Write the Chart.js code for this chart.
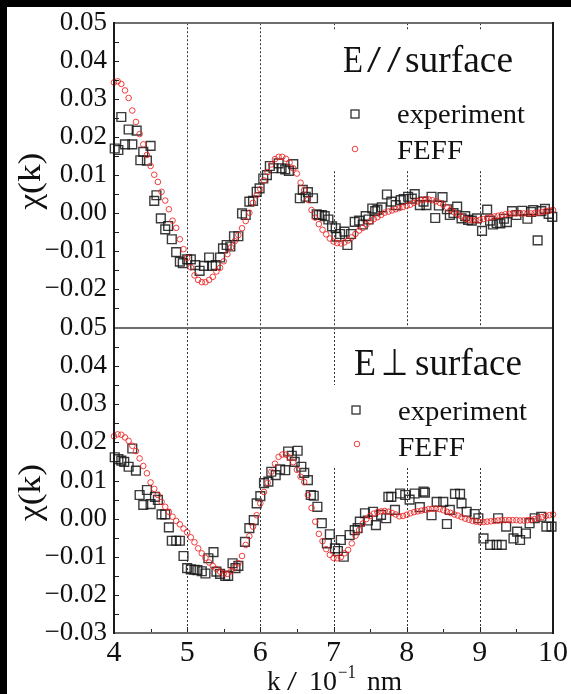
<!DOCTYPE html>
<html>
<head>
<meta charset="utf-8">
<script src="https://cdn.jsdelivr.net/npm/chart.js@4.4.0/dist/chart.umd.min.js"></script>
<style>
html, body { margin: 0; padding: 0; background: #000; }
#wrap { position: relative; width: 571px; height: 694px; overflow: hidden; }
#paper { position: absolute; left: 7px; top: 7px; width: 564px; height: 687px; background: #fff; }
canvas { position: absolute; left: 0; top: 0; }
</style>
</head>
<body>
<div id="wrap">
  <div id="paper"></div>
  <canvas id="topPanel" width="571" height="694"></canvas>
  <canvas id="bottomPanel" width="571" height="694"></canvas>
</div>
<script>
// k values of the FEFF curves (10^-1 nm)
var kFeff = [
  4.00,4.05,4.10,4.15,4.20,4.25,4.30,4.35,4.40,4.45,4.50,4.55,4.60,4.65,4.70,4.75,4.80,4.85,4.90,4.95,
  5.00,5.05,5.10,5.15,5.20,5.25,5.30,5.35,5.40,5.45,5.50,5.55,5.60,5.65,5.70,5.75,5.80,5.85,5.90,5.95,
  6.00,6.05,6.10,6.15,6.20,6.25,6.30,6.35,6.40,6.45,6.50,6.55,6.60,6.65,6.70,6.75,6.80,6.85,6.90,6.95,
  7.00,7.05,7.10,7.15,7.20,7.25,7.30,7.35,7.40,7.45,7.50,7.55,7.60,7.65,7.70,7.75,7.80,7.85,7.90,7.95,
  8.00,8.05,8.10,8.15,8.20,8.25,8.30,8.35,8.40,8.45,8.50,8.55,8.60,8.65,8.70,8.75,8.80,8.85,8.90,8.95,
  9.00,9.05,9.10,9.15,9.20,9.25,9.30,9.35,9.40,9.45,9.50,9.55,9.60,9.65,9.70,9.75,9.80,9.85,9.90,9.95,
  10.00
];

// FEFF, E // surface
var feffTop = [
  0.0344,0.0347,0.0340,0.0323,0.0303,0.0270,0.0240,0.0208,0.0181,0.0153,0.0124,0.0101,0.0082,0.0056,0.0033,0.0010,-0.0020,-0.0039,-0.0069,-0.0095,
  -0.0118,-0.0143,-0.0164,-0.0176,-0.0182,-0.0182,-0.0176,-0.0168,-0.0154,-0.0144,-0.0127,-0.0108,-0.0090,-0.0074,-0.0058,-0.0040,-0.0021,0.0001,0.0027,0.0047,
  0.0063,0.0086,0.0108,0.0128,0.0142,0.0148,0.0148,0.0143,0.0133,0.0118,0.0104,0.0080,0.0061,0.0035,0.0008,-0.0012,-0.0029,-0.0044,-0.0056,-0.0067,
  -0.0075,-0.0079,-0.0080,-0.0077,-0.0072,-0.0064,-0.0055,-0.0046,-0.0039,-0.0030,-0.0022,-0.0016,-0.0011,-0.0005,0.0001,0.0004,0.0007,0.0010,0.0013,0.0016,
  0.0019,0.0022,0.0027,0.0031,0.0034,0.0036,0.0036,0.0034,0.0031,0.0027,0.0022,0.0015,0.0008,0.0002,-0.0004,-0.0009,-0.0015,-0.0018,-0.0019,-0.0019,
  -0.0018,-0.0016,-0.0013,-0.0011,-0.0009,-0.0007,-0.0005,-0.0003,-0.0002,-0.0001,-0.0001,-0.0001,-0.0001,-0.0001,-0.0001,0.0000,0.0001,0.0003,0.0005,0.0007,
  0.0008
];

// FEFF, E perpendicular to surface
var feffBottom = [
  0.0216,0.0221,0.0220,0.0213,0.0204,0.0191,0.0177,0.0158,0.0138,0.0119,0.0095,0.0078,0.0062,0.0044,0.0031,0.0018,0.0005,-0.0006,-0.0015,-0.0026,
  -0.0036,-0.0049,-0.0062,-0.0078,-0.0091,-0.0103,-0.0115,-0.0124,-0.0132,-0.0139,-0.0144,-0.0145,-0.0138,-0.0128,-0.0117,-0.0098,-0.0069,-0.0046,-0.0021,0.0009,
  0.0040,0.0070,0.0094,0.0123,0.0144,0.0162,0.0168,0.0168,0.0160,0.0148,0.0128,0.0110,0.0096,0.0062,0.0028,-0.0008,-0.0040,-0.0059,-0.0080,-0.0095,
  -0.0103,-0.0104,-0.0101,-0.0091,-0.0082,-0.0065,-0.0045,-0.0030,-0.0013,-0.0001,0.0007,0.0013,0.0017,0.0019,0.0020,0.0018,0.0015,0.0011,0.0006,0.0007,
  0.0010,0.0014,0.0017,0.0019,0.0021,0.0023,0.0025,0.0026,0.0026,0.0025,0.0022,0.0018,0.0015,0.0011,0.0008,0.0004,0.0000,-0.0003,-0.0006,-0.0008,
  -0.0009,-0.0009,-0.0008,-0.0007,-0.0006,-0.0005,-0.0004,-0.0004,-0.0004,-0.0004,-0.0004,-0.0005,-0.0005,-0.0004,-0.0003,-0.0001,0.0001,0.0004,0.0007,0.0009,
  0.0011
];

// experiment, E // surface
var kExpTop = [
  4.01,4.06,4.10,4.15,4.20,4.25,4.31,4.36,4.40,4.45,4.50,4.55,4.58,4.64,4.70,4.74,4.79,4.85,4.90,4.94,
  5.00,5.05,5.11,5.17,5.23,5.30,5.34,5.39,5.45,5.49,5.54,5.59,5.64,5.70,5.75,5.80,5.85,5.90,5.95,5.99,
  6.04,6.09,6.13,6.18,6.25,6.29,6.34,6.39,6.45,6.54,6.58,6.62,6.65,6.72,6.77,6.80,6.84,6.88,6.93,6.98,
  7.03,7.04,7.09,7.15,7.19,7.24,7.29,7.35,7.40,7.44,7.48,7.53,7.57,7.60,7.66,7.73,7.79,7.85,7.92,7.96,
  8.02,8.07,8.11,8.18,8.23,8.27,8.34,8.39,8.44,8.49,8.55,8.59,8.64,8.69,8.75,8.80,8.84,8.89,8.96,9.03,
  9.10,9.14,9.18,9.23,9.28,9.33,9.37,9.44,9.50,9.58,9.65,9.70,9.73,9.79,9.84,9.89,9.94,9.99
];
var expTop = [
  0.0170,0.0166,0.0253,0.0181,0.0220,0.0181,0.0217,0.0139,0.0161,0.0138,0.0177,0.0032,0.0047,-0.0014,-0.0043,-0.0034,-0.0069,-0.0103,-0.0128,-0.0132,
  -0.0122,-0.0122,-0.0137,-0.0152,-0.0139,-0.0117,-0.0139,-0.0137,-0.0117,-0.0093,-0.0084,-0.0088,-0.0061,-0.0061,-0.0001,-0.0005,0.0030,0.0032,0.0056,0.0065,
  0.0091,0.0100,0.0124,0.0118,0.0131,0.0118,0.0115,0.0111,0.0129,0.0039,0.0061,0.0043,0.0055,0.0039,-0.0003,-0.0005,-0.0005,-0.0008,-0.0017,-0.0035,
  -0.0040,-0.0062,-0.0055,-0.0049,-0.0084,-0.0055,-0.0023,-0.0020,-0.0030,-0.0008,-0.0017,0.0012,0.0005,0.0009,0.0015,0.0049,0.0030,0.0021,0.0034,0.0037,
  0.0043,0.0038,0.0050,0.0021,0.0030,0.0021,0.0043,-0.0013,0.0020,0.0042,0.0010,-0.0005,0.0000,0.0017,-0.0014,-0.0008,-0.0018,-0.0020,-0.0014,-0.0047,
  0.0009,-0.0020,-0.0030,-0.0026,-0.0027,-0.0015,-0.0024,0.0005,-0.0005,0.0006,-0.0015,0.0003,0.0008,-0.0072,0.0005,0.0011,-0.0002,-0.0010
];

// experiment, E perpendicular to surface
var kExpBottom = [
  4.01,4.06,4.10,4.14,4.20,4.25,4.30,4.35,4.40,4.45,4.50,4.56,4.60,4.65,4.70,4.75,4.79,4.85,4.90,4.95,
  5.00,5.05,5.10,5.14,5.20,5.25,5.29,5.36,5.40,5.45,5.52,5.56,5.62,5.66,5.70,5.79,5.85,5.91,5.95,6.00,
  6.05,6.11,6.15,6.21,6.27,6.34,6.38,6.43,6.47,6.51,6.56,6.60,6.65,6.69,6.73,6.78,6.84,6.91,6.95,7.02,
  7.06,7.10,7.14,7.22,7.29,7.33,7.36,7.43,7.47,7.54,7.58,7.65,7.72,7.75,7.79,7.84,7.91,7.98,8.04,8.11,
  8.18,8.23,8.25,8.34,8.41,8.50,8.55,8.59,8.66,8.73,8.75,8.82,8.93,8.98,9.05,9.14,9.23,9.25,9.30,9.36,
  9.46,9.51,9.55,9.63,9.68,9.75,9.84,9.91,9.98
];
var expBottom = [
  0.0161,0.0156,0.0152,0.0149,0.0136,0.0184,0.0126,0.0062,0.0036,0.0075,0.0038,0.0057,0.0049,0.0011,0.0011,-0.0023,-0.0058,-0.0058,-0.0058,-0.0098,
  -0.0130,-0.0133,-0.0134,-0.0135,-0.0138,-0.0144,-0.0104,-0.0088,-0.0139,-0.0145,-0.0150,-0.0150,-0.0117,-0.0130,-0.0124,-0.0061,-0.0025,-0.0004,0.0040,0.0059,
  0.0093,0.0097,0.0123,0.0114,0.0129,0.0127,0.0176,0.0165,0.0149,0.0178,0.0136,0.0120,0.0101,0.0062,0.0060,0.0031,-0.0012,-0.0065,-0.0041,-0.0078,
  -0.0085,-0.0056,-0.0100,-0.0043,-0.0030,-0.0025,-0.0008,0.0014,-0.0005,0.0018,-0.0017,0.0010,0.0001,0.0057,0.0057,0.0023,0.0066,0.0062,0.0050,0.0066,
  0.0030,0.0071,0.0068,0.0009,0.0044,0.0044,-0.0014,0.0023,0.0065,0.0065,0.0040,0.0018,0.0012,0.0001,-0.0052,-0.0069,-0.0069,0.0001,-0.0069,-0.0021,
  -0.0052,-0.0034,-0.0056,-0.0039,-0.0012,0.0001,0.0005,-0.0021,-0.0021
];

var gridK = [5, 6, 7, 8, 9];
var yMin = -0.03, yMax = 0.05;
var SERIF = '"Liberation Serif", "Times New Roman", serif';

function pts(ks, vs) {
    return ks.map(function(k, i) { return {x: k, y: vs[i]}; });
}

function fmtY(v, hideLowest) {
    if (hideLowest && v < -0.025) return '';
    if (Math.abs(v) < 1e-9) return '0.00';
    return v.toFixed(2).replace('-', '\u2212');
}

// draws text, squeezed or stretched to a given width when one is given
function fitText(ctx, txt, x, y, size, width) {
    ctx.font = size + 'px ' + SERIF;
    var w = ctx.measureText(txt).width;
    ctx.save();
    ctx.translate(x, y);
    if (width) ctx.scale(width / w, 1);
    ctx.fillText(txt, 0, 0);
    ctx.restore();
}

function framePlugin(cfg) {
    return {
        id: 'frame',
        beforeDatasetsDraw: function(chart) {
            var ctx = chart.ctx, a = chart.chartArea, x = chart.scales.x;
            ctx.save();
            // dotted vertical lines
            ctx.strokeStyle = '#333';
            ctx.lineWidth = 1;
            ctx.setLineDash([2, 2]);
            gridK.forEach(function(k) {
                var px = Math.round(x.getPixelForValue(k)) + 0.5;
                ctx.beginPath();
                ctx.moveTo(px, a.top);
                ctx.lineTo(px, a.bottom);
                ctx.stroke();
            });
            ctx.setLineDash([]);
            // legend area hides the dotted lines
            ctx.fillStyle = '#fff';
            cfg.boxes.forEach(function(b) { ctx.fillRect(b[0], b[1], b[2] - b[0], b[3] - b[1]); });
            ctx.restore();
        },
        afterDraw: function(chart) {
            var ctx = chart.ctx, a = chart.chartArea, x = chart.scales.x, y = chart.scales.y;
            ctx.save();
            // inward ticks
            ctx.fillStyle = '#222';
            for (var i = 0; i <= 16; i++) {
                var py = Math.round(y.getPixelForValue(yMin + i * 0.005));
                ctx.fillRect(a.left, py, 5, 1);
            }
            if (cfg.showX) {
                for (var j = 0; j <= 12; j++) {
                    var px2 = Math.round(x.getPixelForValue(4 + j * 0.5));
                    var len = j % 2 ? 4 : 6;
                    ctx.fillRect(px2, a.bottom - len, 1, len);
                }
            }
            // box (the line between the panels is drawn once, by the lower panel)
            var L0 = Math.round(a.left), R0 = Math.round(a.right), T0 = Math.round(a.top), B0 = Math.round(a.bottom);
            ctx.fillStyle = '#6e6e6e';
            ctx.fillRect(L0, T0 - 1, R0 - L0, 2);
            if (cfg.showX) ctx.fillRect(L0, B0 - 1, R0 - L0, 2);
            ctx.fillStyle = '#1a1a1a';
            ctx.fillRect(L0 - 1, T0 - 1, 2, B0 - T0 + 2);
            ctx.fillRect(R0 - 1, T0 - 1, 2, B0 - T0 + 2);

            // legend
            ctx.fillStyle = '#111';
            ctx.textAlign = 'left';
            ctx.textBaseline = 'alphabetic';
            var L = cfg.legend;
            L.title.forEach(function(p) { fitText(ctx, p.t, p.x, L.titleBase, L.titleSize, p.w); });
            fitText(ctx, 'experiment', L.textX, L.expBase, 28, L.expW);
            fitText(ctx, 'FEFF', L.textX, L.feffBase, 28, L.feffW);
            ctx.strokeStyle = 'rgba(25,25,25,0.9)';
            ctx.lineWidth = 1.3;
            ctx.strokeRect(L.sq[0] - 4, L.sq[1] - 4, 8, 8);
            ctx.strokeStyle = 'rgba(238,30,30,0.85)';
            ctx.lineWidth = 1;
            ctx.beginPath();
            ctx.arc(L.ci[0], L.ci[1], 2.8, 0, Math.PI * 2);
            ctx.stroke();

            // y title
            ctx.save();
            ctx.translate(32, (a.top + a.bottom) / 2 + cfg.titleShift);
            ctx.rotate(-Math.PI / 2);
            ctx.textBaseline = 'middle';
            ctx.font = '31px ' + SERIF;
            var tw = ctx.measureText('\u03c7(k)').width;
            ctx.scale(57 / tw, 1);
            ctx.fillText('\u03c7(k)', -tw / 2, 0);
            ctx.restore();

            // x title
            if (cfg.showX) {
                fitText(ctx, 'k', 267, 690, 27, null);
                fitText(ctx, '/', 287, 690, 27, 10);
                fitText(ctx, '10', 309, 690, 27, 28);
                fitText(ctx, '\u22121', 338, 678, 18, 18);
                fitText(ctx, 'nm', 367, 690, 27, 35);
            }
            ctx.restore();
        }
    };
}

function panel(id, expK, expV, feffV, cfg) {
    return new Chart(document.getElementById(id), {
        type: 'scatter',
        data: {
            datasets: [
                { label: 'FEFF', data: pts(kFeff, feffV), pointStyle: 'circle', pointRadius: 2.8,
                  borderColor: 'rgba(238,30,30,0.85)', backgroundColor: 'rgba(0,0,0,0)', borderWidth: 1, clip: false },
                { label: 'experiment', data: pts(expK, expV), pointStyle: 'rect', pointRadius: 6.2,
                  borderColor: 'rgba(25,25,25,0.85)', backgroundColor: 'rgba(0,0,0,0)', borderWidth: 1.4, clip: false }
            ]
        },
        options: {
            responsive: false,
            animation: false,
            events: [],
            layout: { padding: { left: 0, right: 18, top: cfg.padTop, bottom: cfg.padBottom } },
            plugins: { legend: { display: false }, tooltip: { enabled: false } },
            scales: {
                x: {
                    type: 'linear', min: 4, max: 10, display: cfg.showX,
                    grid: { display: false, drawTicks: false }, border: { display: false },
                    ticks: { stepSize: 1, padding: 2, color: '#111', font: { family: SERIF, size: 30 } },
                    afterFit: function(s) { s.height = cfg.showX ? 61 : 0; }
                },
                y: {
                    min: yMin, max: yMax,
                    grid: { display: false, drawTicks: false }, border: { display: false },
                    ticks: { stepSize: 0.01, padding: 7, autoSkip: false, color: '#111',
                             font: { family: SERIF, size: 27 },
                             callback: function(v) { return fmtY(v, cfg.hideLowest); } },
                    afterFit: function(s) { s.width = 114; }
                }
            }
        },
        plugins: [framePlugin(cfg)]
    });
}

panel('topPanel', kExpTop, expTop, feffTop, {
    padTop: 23, padBottom: 694 - 327, showX: false, hideLowest: true, titleShift: 6,
    boxes: [[300, 30, 552, 170]],
    legend: {
        title: [{t: 'E', x: 343, w: 20}, {t: '/', x: 367, w: 14}, {t: '/', x: 387, w: 14}, {t: 'surface', x: 405, w: 108}],
        titleBase: 72, titleSize: 38,
        textX: 397, expBase: 123, expW: 128, feffBase: 159, feffW: 66,
        sq: [355, 114], ci: [355, 149]
    }
});

panel('bottomPanel', kExpBottom, expBottom, feffBottom, {
    padTop: 328, padBottom: 0, showX: true, hideLowest: false, titleShift: 12,
    boxes: [[340, 329, 552, 385], [320, 385, 552, 467]],
    legend: {
        title: [{t: 'E', x: 354, w: 22}, {t: '\u22a5', x: 381, w: 27}, {t: 'surface', x: 415, w: 107}],
        titleBase: 375, titleSize: 37,
        textX: 398, expBase: 420, expW: 129, feffBase: 456, feffW: 67,
        sq: [356, 410], ci: [357, 444]
    }
});
</script>
</body>
</html>
